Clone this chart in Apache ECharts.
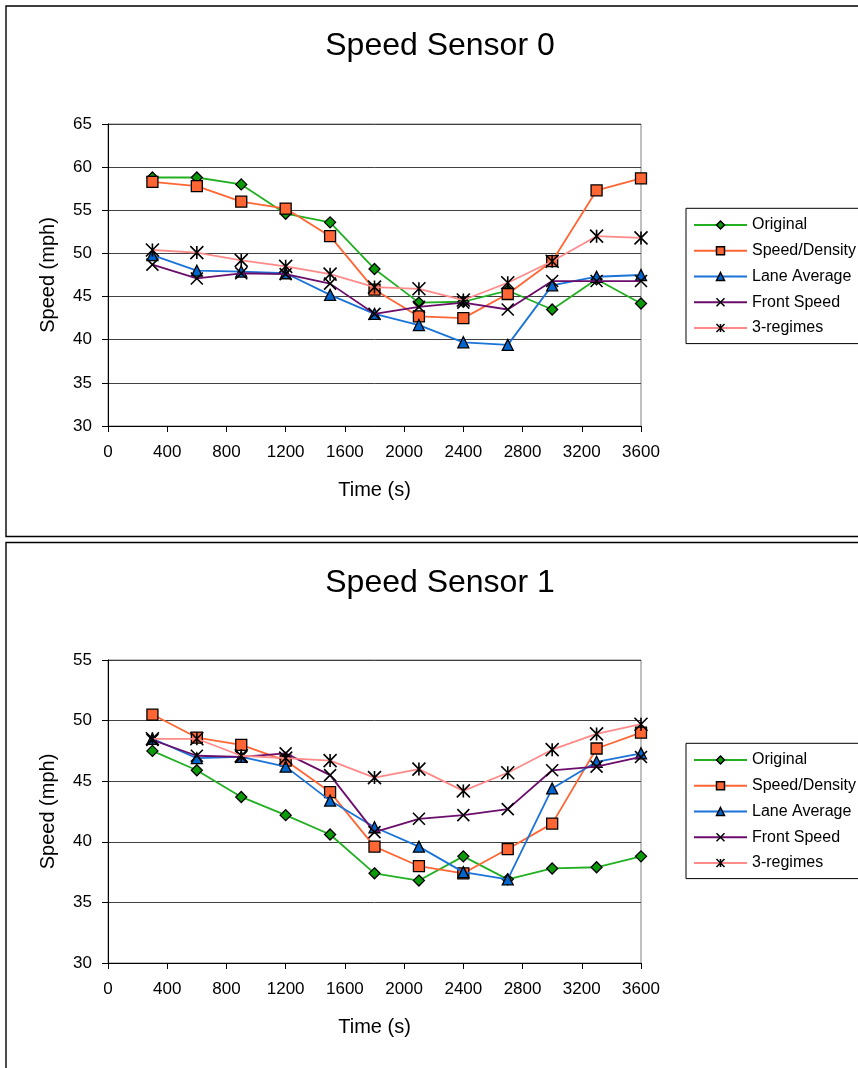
<!DOCTYPE html>
<html>
<head>
<meta charset="utf-8">
<script src="https://cdn.jsdelivr.net/npm/echarts@6/dist/echarts.min.js"></script>
<style>
html,body{margin:0;padding:0;background:#fff;}
#chart{width:858px;height:1068px;}
</style>
</head>
<body>
<div id="chart"></div>
<script>
// ---- data ----
const times = [300, 600, 900, 1200, 1500, 1800, 2100, 2400, 2700, 3000, 3300, 3600];
const seriesNames = ['Original', 'Speed/Density', 'Lane Average', 'Front Speed', '3-regimes'];
const titles = ['Speed Sensor 0', 'Speed Sensor 1'];
const xTicks = [0, 400, 800, 1200, 1600, 2000, 2400, 2800, 3200, 3600];
const yTicks0 = [30, 35, 40, 45, 50, 55, 60, 65];
const yTicks1 = [30, 35, 40, 45, 50, 55];

// Sensor 0
const original0     = [58.8, 58.8, 58.0, 54.6, 53.6, 48.2, 44.3, 44.4, 45.7, 43.5, 47.0, 44.2];
const speedDensity0 = [58.3, 57.8, 56.0, 55.2, 52.0, 45.8, 42.7, 42.5, 45.3, 49.1, 57.3, 58.7];
const laneAvg0      = [49.8, 48.0, 47.9, 47.7, 45.2, 43.0, 41.7, 39.7, 39.4, 46.3, 47.3, 47.5];
const front0        = [48.7, 47.1, 47.7, 47.6, 46.5, 43.0, 43.8, 44.3, 43.5, 46.8, 46.8, 46.8];
const regimes0      = [50.4, 50.1, 49.2, 48.5, 47.6, 46.1, 45.9, 44.6, 46.6, 49.1, 52.0, 51.8];

// Sensor 1
const original1     = [47.5, 45.9, 43.7, 42.2, 40.6, 37.4, 36.8, 38.8, 36.9, 37.8, 37.9, 38.8];
const speedDensity1 = [50.5, 48.6, 48.0, 46.7, 44.1, 39.6, 38.0, 37.4, 39.4, 41.5, 47.7, 49.0];
const laneAvg1      = [48.5, 46.9, 47.0, 46.2, 43.4, 41.2, 39.6, 37.5, 36.9, 44.4, 46.6, 47.3];
const front1        = [48.4, 47.1, 47.0, 47.3, 45.5, 40.8, 41.9, 42.2, 42.7, 45.9, 46.2, 47.0];
const regimes1      = [48.5, 48.5, 47.1, 46.9, 46.7, 45.3, 46.0, 44.2, 45.7, 47.6, 48.9, 49.7];

// ---- styles ----
const FONT = '"Liberation Sans", Arial, Helvetica, sans-serif';
const styles = [
  {line: '#22b022', fill: '#0a9a0a', symbol: 'diamond', size: 11, bw: 1.3},
  {line: '#ff6633', fill: '#ff6633', symbol: 'rect', size: 11, bw: 1.3},
  {line: '#1a73d9', fill: '#0066cc', symbol: 'triangle', size: 11, bw: 1.3},
  {line: '#6b0d6b', fill: 'rgba(0,0,0,0)', symbol: 'path://M0,0L10,10M10,0L0,10', size: 12, bw: 1.6},
  {line: '#ff8a8a', fill: 'rgba(0,0,0,0)', symbol: 'path://M0,0L10,10M10,0L0,10M5,0L5,10', size: 13, bw: 1.6}
];
const dataSets = [
  [original0, speedDensity0, laneAvg0, front0, regimes0],
  [original1, speedDensity1, laneAvg1, front1, regimes1]
];
const yRanges = [yTicks0, yTicks1];

const grids = [
  {left: 108, top: 124, width: 533, height: 302},
  {left: 108, top: 660, width: 533, height: 303}
];
const legendTops = [208.3, 743.3];
const titleTops = [25, 562];

const option = {
  animation: false,
  backgroundColor: '#ffffff',
  textStyle: {fontFamily: FONT, color: '#000'},
  title: titles.map((t, i) => ({
    text: t, left: 435, top: titleTops[i], textAlign: 'center',
    textStyle: {fontFamily: FONT, fontSize: 32, fontWeight: 'normal', color: '#000'}
  })),
  graphic: [
    {type: 'rect', shape: {x: 6, y: 6, width: 900, height: 530.5}, style: {fill: 'none', stroke: '#000', lineWidth: 1.4}, silent: true},
    {type: 'rect', shape: {x: 6, y: 542.5, width: 900, height: 600}, style: {fill: 'none', stroke: '#000', lineWidth: 1.4}, silent: true}
  ],
  grid: grids.map(g => Object.assign({show: true, borderColor: '#808080', borderWidth: 1, backgroundColor: 'transparent'}, g)),
  legend: legendTops.map(top => ({
    data: seriesNames,
    orient: 'vertical',
    left: 686, top: top,
    padding: [8.7, 24, 7.6, 7],
    borderColor: '#000', borderWidth: 1,
    itemWidth: 53, itemHeight: 10, itemGap: 9.75,
    textStyle: {fontFamily: FONT, fontSize: 16, lineHeight: 16, color: '#000'},
    itemStyle: {borderWidth: 1.5},
    selectedMode: false
  })),
  xAxis: [0, 1].map(i => ({
    gridIndex: i, type: 'value', min: xTicks[0], max: xTicks[xTicks.length - 1], interval: xTicks[1] - xTicks[0],
    name: 'Time (s)', nameLocation: 'middle', nameGap: 54,
    nameTextStyle: {fontFamily: FONT, fontSize: 20, color: '#000'},
    axisLine: {show: true, onZero: false, lineStyle: {color: '#000', width: 1}},
    axisTick: {show: true, inside: false, length: 6, lineStyle: {color: '#000'}},
    axisLabel: {fontFamily: FONT, fontSize: 17, color: '#000', margin: 18, formatter: v => String(v)},
    splitLine: {show: false}
  })),
  yAxis: [0, 1].map(i => ({
    gridIndex: i, type: 'value', min: yRanges[i][0], max: yRanges[i][yRanges[i].length - 1], interval: yRanges[i][1] - yRanges[i][0],
    name: 'Speed (mph)', nameLocation: 'middle', nameGap: 50, nameRotate: 90,
    nameTextStyle: {fontFamily: FONT, fontSize: 20, color: '#000'},
    axisLine: {show: true, onZero: false, lineStyle: {color: '#000', width: 1}},
    axisTick: {show: true, inside: false, length: 6, lineStyle: {color: '#000'}},
    axisLabel: {fontFamily: FONT, fontSize: 17, color: '#000', margin: 16, formatter: v => String(v)},
    splitLine: {show: true, lineStyle: {color: '#404040', width: 1}}
  })),
  series: []
};

for (let g = 0; g < 2; g++) {
  seriesNames.forEach((name, k) => {
    const st = styles[k];
    option.series.push({
      type: 'line', name: name, xAxisIndex: g, yAxisIndex: g,
      data: times.map((t, j) => [t, dataSets[g][k][j]]),
      symbol: st.symbol, symbolSize: st.size,
      lineStyle: {color: st.line, width: 1.8},
      itemStyle: {color: st.fill, borderColor: '#000', borderWidth: st.bw},
      z: 2 + k
    });
  });
}

const chart = echarts.init(document.getElementById('chart'), null, {renderer: 'canvas'});
chart.setOption(option);
</script>
</body>
</html>
